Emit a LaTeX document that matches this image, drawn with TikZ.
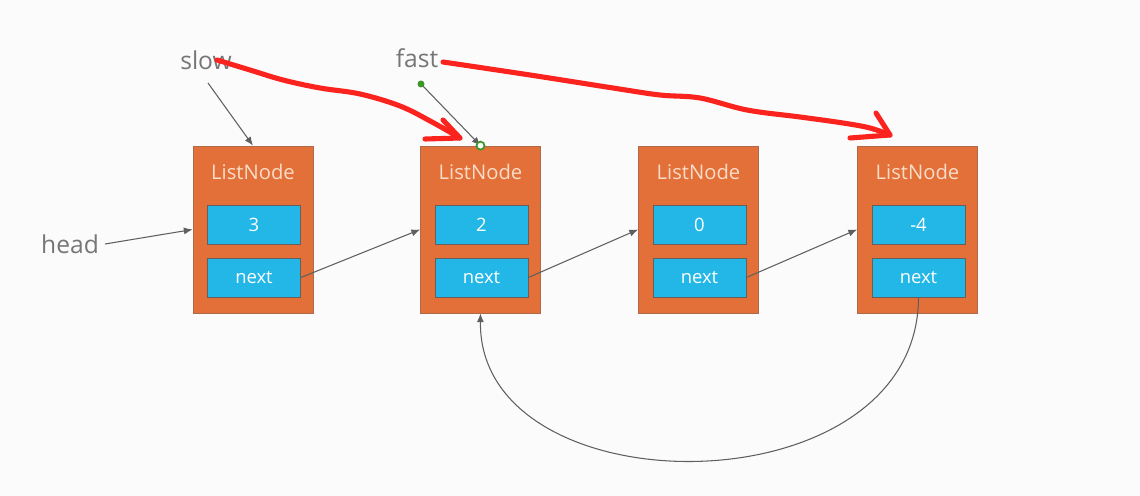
\documentclass[tikz,border=0pt]{standalone}
\usepackage{fontspec}
\setmainfont{Open Sans}
\usetikzlibrary{arrows.meta}
\definecolor{nodeorange}{RGB}{226,112,56}
\definecolor{nodeedge}{RGB}{175,105,75}
\definecolor{fieldblue}{RGB}{34,183,230}
\definecolor{fieldedge}{RGB}{105,95,90}
\definecolor{pengray}{RGB}{95,95,95}
\definecolor{labelgray}{RGB}{118,118,118}
\definecolor{inkred}{RGB}{250,35,30}
\definecolor{handlegreen}{RGB}{60,150,40}
\begin{document}
\begin{tikzpicture}[x=0.2mm,y=-0.2mm]
	\tikzstyle{list_node} = [rectangle, draw=nodeedge, fill=nodeorange, minimum width=24mm, minimum height=33.4mm, inner sep=0pt]
	\tikzstyle{field} = [rectangle, draw=fieldedge, fill=fieldblue, minimum width=18.6mm, minimum height=7.8mm, inner sep=0pt, text=white, font=\fontsize{10.5}{12}\selectfont]
	\tikzstyle{title} = [text={rgb,255:red,250;green,220;blue,200}, font=\fontsize{11.5}{13}\selectfont]
	\tikzstyle{pointer} = [text=labelgray, font=\fontsize{14}{16}\selectfont]
	\tikzstyle{link} = [draw=pengray, line width=0.6pt, -{Latex[length=5pt,width=4pt]}]
	\tikzstyle{ink} = [draw=inkred, line width=2.9pt, line cap=round, line join=round]

	% Page
	\useasboundingbox (0,0) rectangle (1140,496);
	\fill[white!98.5!black] (0,0) rectangle (1140,496);

	% List nodes
	\foreach \i/\x/\v in {1/253/3, 2/480.5/2, 3/698.5/0, 4/917.5/-4} {
		\node (n\i) [list_node] at (\x,229.5) {};
		\node (t\i) [title] at (\x,172) {ListNode};
		\node (v\i) [field] at (\x+1,224.5) {\v};
		\node (nx\i) [field] at (\x+1,277.5) {next};
	}

	% Pointer names
	\node (slow) [pointer] at (206,60) {slow};
	\node (fast) [pointer] at (417,58) {fast};
	\node (head) [pointer] at (70,244) {head};
	\coordinate (slowtail) at (208,83);
	\coordinate (fasttail) at (421,84);

	% Links
	\draw[link] (head.east) -- (n1.west);
	\draw[link] (slowtail) -- (n1.north);
	\draw[link] (fasttail) -- (n2.north);
	\draw[link] (nx1.east) -- (n2.west);
	\draw[link] (nx2.east) -- (n3.west);
	\draw[link] (nx3.east) -- (n4.west);
	\draw[link] (nx4.south) .. controls (918,512) and (478,512) .. (n2.south);

	% Selection handles
	\fill[handlegreen] (fasttail) circle [radius=3.5];
	\draw[handlegreen, line width=1pt, fill=white] (n2.north) circle [radius=4];

	% Hand drawn moves
	\draw[ink] plot[smooth, tension=0.6] coordinates {(217,60) (250,70) (283,80) (320,88) (360,94) (400,106) (432,122) (460,138)};
	\draw[ink] (443,120) -- (460,138) -- (425,139);
	\draw[ink] plot[smooth, tension=0.6] coordinates {(443,62) (530,75) (613,88) (660,95) (700,98) (747,110) (800,117) (843,123) (870,128) (890,135)};
	\draw[ink] (876,113) -- (890,135) -- (850,138);
\end{tikzpicture}
\end{document}
